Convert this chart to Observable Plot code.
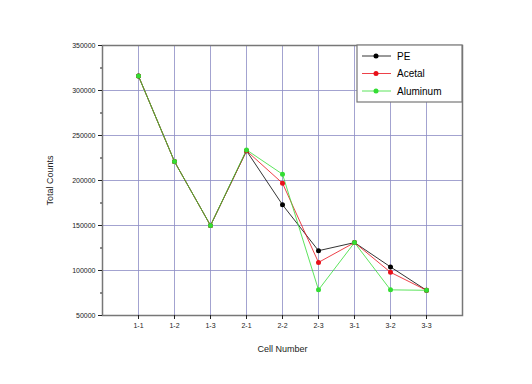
<!DOCTYPE html>
<html>
<head>
<meta charset="utf-8">
<script src="https://cdn.jsdelivr.net/npm/d3@7"></script>
<script src="https://cdn.jsdelivr.net/npm/@observablehq/plot@0.6"></script>
<style>
html,body{margin:0;padding:0;background:#fff;}
svg{font-family:"Liberation Sans",Arial,sans-serif;}
</style>
</head>
<body>
<div id="chart"></div>
<script>
const cells = ["1-1","1-2","1-3","2-1","2-2","2-3","3-1","3-2","3-3"];
const seriesNames = ["PE","Acetal","Aluminum"];
const seriesColors = ["#000000","#e8101a","#33dd33"];
const pe       = [316000,221000,150000,233000,173000,122000,131000,104000,78000];
const acetal   = [316000,221000,150000,233000,197000,109000,131000,98000,78000];
const aluminum = [316000,221000,150000,234000,207000,78500,131000,78500,78000];
const yTicks = [50000,100000,150000,200000,250000,300000,350000];
const yMinor = [75000,125000,175000,225000,275000,325000];

const seriesValues = [pe, acetal, aluminum];
const rows = [];
seriesValues.forEach((vals, si) => vals.forEach((v, i) => rows.push({cell: cells[i], value: v, series: seriesNames[si]})));

const chart = Plot.plot({
  width: 532,
  height: 384,
  marginLeft: 102,
  marginRight: 70,
  marginTop: 45,
  marginBottom: 69,
  style: {fontSize: "7px", fontFamily: "Liberation Sans, Arial, sans-serif", background: "#fff", color: "#222"},
  x: {type: "point", domain: cells, padding: 1},
  y: {domain: [50000, 350000]},
  color: {domain: seriesNames, range: seriesColors},
  marks: [
    Plot.gridX(cells, {stroke: "#8c8cc4", strokeOpacity: 0.8, strokeWidth: 1}),
    Plot.gridY(yTicks, {stroke: "#8c8cc4", strokeOpacity: 0.8, strokeWidth: 1}),
    Plot.frame({stroke: "#777", strokeWidth: 1.5}),
    Plot.axisY(yTicks, {tickSize: 4, tickPadding: 3, tickFormat: d => String(d), label: "Total Counts", labelAnchor: "center", labelArrow: "none", labelOffset: 56, fontSize: 7}),
    Plot.axisY(yMinor, {tickSize: 2, text: null, label: null}),
    Plot.axisX(cells, {tickSize: 4, tickPadding: 4, label: "Cell Number", labelAnchor: "center", labelArrow: "none", labelOffset: 36, fontSize: 7}),
    ...seriesNames.map((s, si) => Plot.line(rows.filter(r => r.series === s), {x: "cell", y: "value", stroke: seriesColors[si], strokeWidth: 0.8})),
    ...seriesNames.map((s, si) => Plot.dot(rows.filter(r => r.series === s), {x: "cell", y: "value", fill: seriesColors[si], r: 2.5}))
  ]
});

document.getElementById("chart").appendChild(chart);

d3.select(chart).selectAll("g[aria-label='y-axis label'] text, g[aria-label='x-axis label'] text").style("font-size", "9px");

// legend box (layout element)
const svg = d3.select(chart);
const lg = svg.append("g").attr("class", "legend").attr("text-anchor", "start");
lg.append("rect").attr("x", 357).attr("y", 45).attr("width", 105).attr("height", 57)
  .attr("fill", "#fff").attr("stroke", "#777").attr("stroke-width", 1.2);
seriesNames.forEach((s, i) => {
  const y = 56 + i * 17.5;
  lg.append("line").attr("x1", 362).attr("x2", 391).attr("y1", y).attr("y2", y)
    .attr("stroke", seriesColors[i]).attr("stroke-width", 0.8);
  lg.append("circle").attr("cx", 376).attr("cy", y).attr("r", 2.5).attr("fill", seriesColors[i]);
  lg.append("text").attr("x", 397).attr("y", y).attr("dy", "0.35em")
    .attr("font-size", 10).attr("fill", "#000").attr("text-anchor", "start").text(s);
});
</script>
</body>
</html>
